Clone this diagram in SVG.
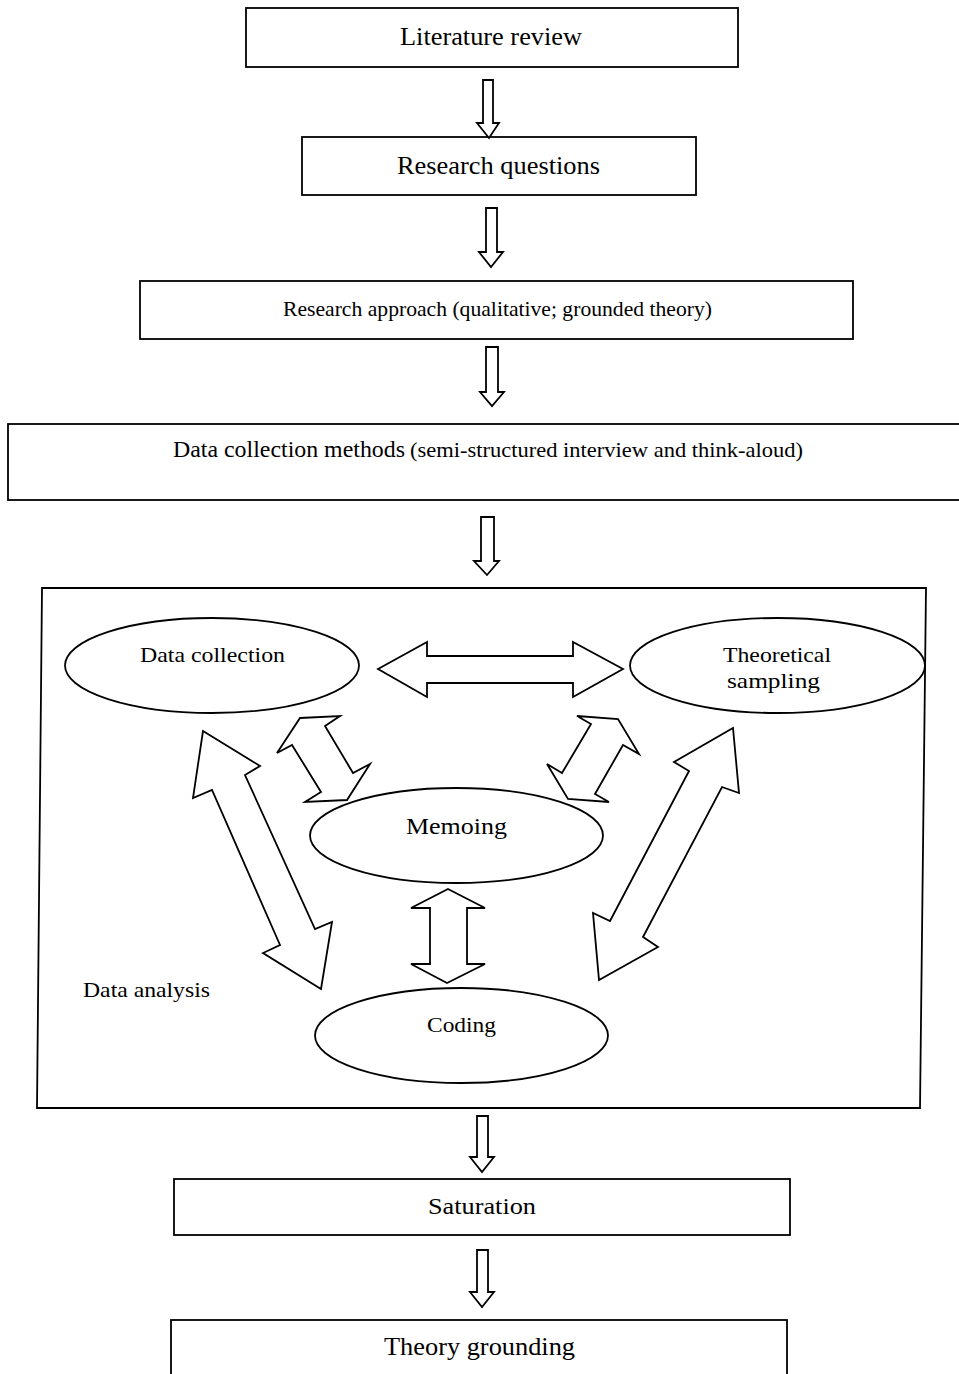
<svg xmlns="http://www.w3.org/2000/svg" width="959" height="1374" viewBox="0 0 959 1374">
<style>
.box{fill:#fff;stroke:#000;stroke-width:1.8}
.ell{fill:#fff;stroke:#000;stroke-width:1.8}
.arr{fill:#fff;stroke:#000;stroke-width:1.8;stroke-linejoin:miter}
text{font-family:"Liberation Serif","Times New Roman",serif;fill:#000}
.c{text-anchor:middle}
</style>
<rect width="959" height="1374" fill="#fff"/>
<g id="node-literature">
<rect class="box" x="246" y="8" width="492" height="59"/>
<text class="c" x="491" y="45" font-size="26" textLength="182" lengthAdjust="spacingAndGlyphs">Literature review</text>
</g>
<g id="node-questions">
<rect class="box" x="302" y="137" width="394" height="58"/>
<text class="c" x="498.5" y="174" font-size="26" textLength="203" lengthAdjust="spacingAndGlyphs">Research questions</text>
</g>
<g id="node-approach">
<rect class="box" x="140" y="281" width="713" height="58"/>
<text class="c" x="497.5" y="316" font-size="22" textLength="429" lengthAdjust="spacingAndGlyphs">Research approach (qualitative; grounded theory)</text>
</g>
<g id="node-methods">
<rect class="box" x="8" y="424" width="960" height="76"/>
<text x="173" y="457" font-size="24" textLength="232" lengthAdjust="spacingAndGlyphs">Data collection methods</text>
<text x="410" y="457" font-size="22" textLength="393" lengthAdjust="spacingAndGlyphs">(semi-structured interview and think-aloud)</text>
</g>
<g id="node-analysis">
<polygon class="box" points="42,588 926,588 920,1108 37,1108"/>
<text x="83" y="997" font-size="22" textLength="127" lengthAdjust="spacingAndGlyphs">Data analysis</text>
</g>
<g id="node-datacollection">
<ellipse class="ell" cx="212" cy="665.5" rx="147" ry="47.5"/>
<text class="c" x="212.5" y="662" font-size="22" textLength="145" lengthAdjust="spacingAndGlyphs">Data collection</text>
</g>
<g id="node-theoretical">
<ellipse class="ell" cx="777.5" cy="665.5" rx="147.5" ry="47.5"/>
<text class="c" x="777" y="662" font-size="22" textLength="108" lengthAdjust="spacingAndGlyphs">Theoretical</text>
<text class="c" x="773.5" y="688" font-size="22" textLength="93" lengthAdjust="spacingAndGlyphs">sampling</text>
</g>
<g id="node-memoing">
<ellipse class="ell" cx="456.5" cy="835.5" rx="146.5" ry="47.5"/>
<text class="c" x="456.5" y="834" font-size="24" textLength="101" lengthAdjust="spacingAndGlyphs">Memoing</text>
</g>
<g id="node-coding">
<ellipse class="ell" cx="461.5" cy="1035.5" rx="146.5" ry="47.5"/>
<text class="c" x="461.5" y="1032" font-size="22" textLength="69" lengthAdjust="spacingAndGlyphs">Coding</text>
</g>
<g id="node-saturation">
<rect class="box" x="174" y="1179" width="616" height="56"/>
<text class="c" x="482" y="1214" font-size="24" textLength="108" lengthAdjust="spacingAndGlyphs">Saturation</text>
</g>
<g id="node-theory">
<rect class="box" x="171" y="1320" width="616" height="70"/>
<text class="c" x="479.5" y="1355" font-size="25" textLength="191" lengthAdjust="spacingAndGlyphs">Theory grounding</text>
</g>
<g id="connectors">
<polygon class="arr" points="483,80 493,80 493,123 499,123 489,138 477,123 483,123"/>
<polygon class="arr" points="486,208 497,208 497,252 503,252 491,267 479,252 486,252"/>
<polygon class="arr" points="486,347 498,347 498,392 504,392 492,406 480,392 486,392"/>
<polygon class="arr" points="481,517 494,517 494,561 499,561 487,575 474,561 481,561"/>
<polygon class="arr" points="477,1116 488,1116 488,1157 494,1157 482,1172 470,1157 477,1157"/>
<polygon class="arr" points="477,1250 488,1250 488,1292 494,1292 482,1307 470,1292 477,1292"/>
<polygon class="arr" points="378,669 427,642 427,656 573,656 573,642 623,669 573,697 573,683 427,683 427,697"/>
<polygon class="arr" points="277,753 300,718 340,716 325,726 353,773 370,764 347,800 305,802 321,792 292,745"/>
<polygon class="arr" points="577,716 618,719 639,754 623,745 595,794 609,802 568,799 547,764 562,773 591,724"/>
<polygon class="arr" points="203,731 260,766 245,775 315,929 332,922 321,989 263,953 280,945 212,790 193,798"/>
<polygon class="arr" points="733,728 739,793 722,787 643,937 658,947 599,980 593,913 610,921 689,771 674,762"/>
<polygon class="arr" points="448,889 485,908 467,908 467,964 485,964 447,983 411,964 430,964 430,908 411,908"/>
</g>
</svg>
